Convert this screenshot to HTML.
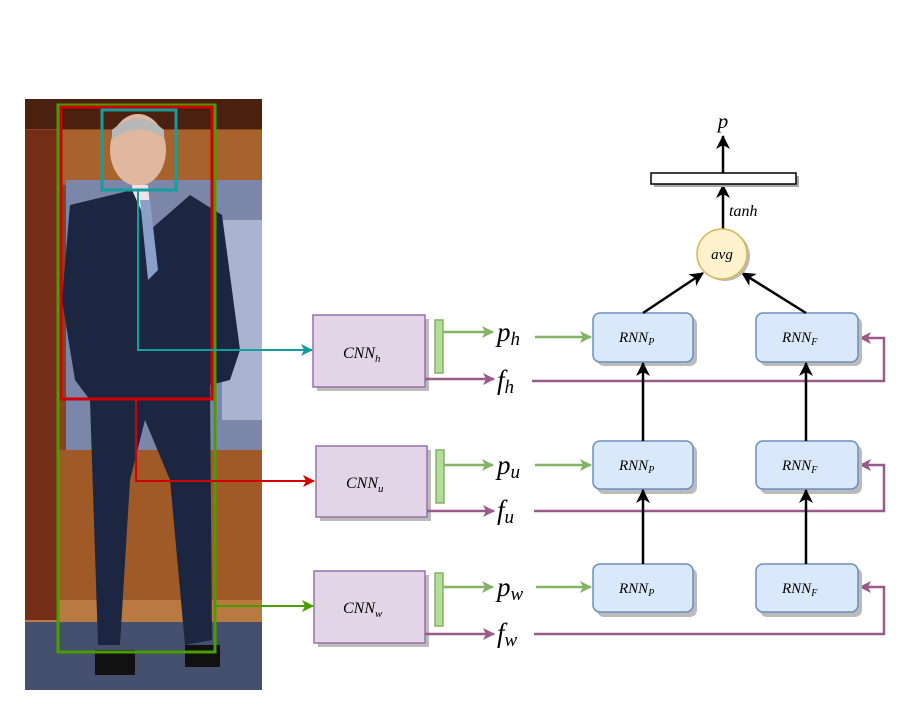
<!DOCTYPE html>
<html><head><meta charset="utf-8"><style>
html,body{margin:0;padding:0;background:#fff}
svg{display:block}
text{font-family:"Liberation Serif",serif;font-style:italic;fill:#000}
</style></head><body>
<svg width="907" height="718" viewBox="0 0 907 718" xmlns="http://www.w3.org/2000/svg">
<defs>
<marker id="ak" markerWidth="14" markerHeight="14" refX="13" refY="7" orient="auto" markerUnits="userSpaceOnUse"><path d="M0,0 L14,7 L0,14 L4,7 Z" fill="#000"/></marker>
<marker id="ag" markerWidth="12" markerHeight="12" refX="11" refY="6" orient="auto" markerUnits="userSpaceOnUse"><path d="M0,0 L12,6 L0,12 L3,6 Z" fill="#82b366"/></marker>
<marker id="am" markerWidth="12" markerHeight="12" refX="11" refY="6" orient="auto" markerUnits="userSpaceOnUse"><path d="M0,0 L12,6 L0,12 L3,6 Z" fill="#9a5b8a"/></marker>
<marker id="at" markerWidth="12" markerHeight="12" refX="11" refY="6" orient="auto" markerUnits="userSpaceOnUse"><path d="M0,0 L12,6 L0,12 L3,6 Z" fill="#139e9e"/></marker>
<marker id="ar" markerWidth="12" markerHeight="12" refX="11" refY="6" orient="auto" markerUnits="userSpaceOnUse"><path d="M0,0 L12,6 L0,12 L3,6 Z" fill="#d00000"/></marker>
<marker id="agr" markerWidth="12" markerHeight="12" refX="11" refY="6" orient="auto" markerUnits="userSpaceOnUse"><path d="M0,0 L12,6 L0,12 L3,6 Z" fill="#4b9c00"/></marker>
</defs>

<!-- photo -->
<rect x="25" y="99" width="237" height="591" fill="#8a4226"/>
<rect x="25" y="99" width="237" height="30" fill="#4a2010"/>
<rect x="60" y="130" width="202" height="55" fill="#a8622c"/>
<rect x="66" y="180" width="196" height="270" fill="#7c86a8"/>
<rect x="222" y="220" width="40" height="200" fill="#aab4d0"/>
<rect x="25" y="450" width="237" height="170" fill="#a05a28"/>
<rect x="25" y="600" width="237" height="22" fill="#b87a40"/>
<rect x="25" y="622" width="237" height="68" fill="#44506e"/>
<rect x="25" y="130" width="32" height="490" fill="#742e18"/>
<!-- person -->
<ellipse cx="138" cy="150" rx="28" ry="36" fill="#e0b8a0"/>
<path d="M112,130 Q138,107 164,130 L164,138 Q138,120 112,140Z" fill="#b8b8b8"/>
<path d="M132,185 L148,185 L152,230 L136,230Z" fill="#f0e0e8"/>
<path d="M70,205 L132,190 L150,230 L190,195 L222,215 L240,350 L230,380 L210,385 L212,640 L185,645 L170,480 L145,420 L130,480 L120,645 L98,645 L90,400 L75,380 L62,300Z" fill="#1c2640"/>
<path d="M140,200 L150,200 L158,270 L148,280Z" fill="#8aa0c8"/>
<rect x="95" y="650" width="40" height="25" fill="#111"/>
<rect x="185" y="645" width="35" height="22" fill="#111"/>

<!-- bbox -->
<rect x="58" y="105" width="157" height="547" fill="none" stroke="#4b9c00" stroke-width="3"/>
<rect x="61" y="107" width="151" height="292" fill="none" stroke="#d00000" stroke-width="3"/>
<rect x="102" y="110" width="74" height="80" fill="none" stroke="#139e9e" stroke-width="3"/>

<polyline points="138,190 138,350 312,350" fill="none" stroke="#139e9e" stroke-width="2" marker-end="url(#at)"/>
<polyline points="136,399 136,481 314,481" fill="none" stroke="#d00000" stroke-width="2" marker-end="url(#ar)"/>
<polyline points="215,606 313,606" fill="none" stroke="#4b9c00" stroke-width="2" marker-end="url(#agr)"/>

<!-- CNN boxes -->
<g fill="#bbb"><rect x="317" y="319" width="112" height="72"/><rect x="320" y="450" width="111" height="71"/><rect x="318" y="575" width="111" height="72"/></g>
<g fill="#e1d5e7" stroke="#9673a6" stroke-width="1.5">
<rect x="313" y="315" width="112" height="72"/><rect x="316" y="446" width="111" height="71"/><rect x="314" y="571" width="111" height="72"/>
</g>
<text x="343" y="358" font-size="16">CNN<tspan font-size="11" dy="4">h</tspan></text>
<text x="346" y="488" font-size="16">CNN<tspan font-size="11" dy="4">u</tspan></text>
<text x="343" y="613" font-size="16">CNN<tspan font-size="11" dy="4">w</tspan></text>

<!-- green bars -->
<g fill="#b6dc9c" stroke="#82b366" stroke-width="1.5">
<rect x="435" y="320" width="8" height="53"/><rect x="436" y="450" width="8" height="53"/><rect x="435" y="573" width="8" height="53"/>
</g>
<g stroke="#82b366" stroke-width="2.5" fill="none">
<line x1="443" y1="332" x2="493" y2="332" marker-end="url(#ag)"/>
<line x1="444" y1="465" x2="493" y2="465" marker-end="url(#ag)"/>
<line x1="443" y1="587" x2="493" y2="587" marker-end="url(#ag)"/>
<line x1="535" y1="337" x2="591" y2="337" marker-end="url(#ag)"/>
<line x1="535" y1="465" x2="591" y2="465" marker-end="url(#ag)"/>
<line x1="536" y1="587" x2="591" y2="587" marker-end="url(#ag)"/>
</g>
<g stroke="#9a5b8a" stroke-width="2.5" fill="none">
<line x1="425" y1="379" x2="494" y2="379" marker-end="url(#am)"/>
<line x1="427" y1="511" x2="494" y2="511" marker-end="url(#am)"/>
<line x1="425" y1="634" x2="494" y2="634" marker-end="url(#am)"/>
<polyline points="532,381 884,381 884,338 860,338" marker-end="url(#am)"/>
<polyline points="534,511 884,511 884,465 860,465" marker-end="url(#am)"/>
<polyline points="534,634 884,634 884,587 860,587" marker-end="url(#am)"/>
</g>

<text x="497" y="341" font-size="27">p<tspan font-size="19" dy="4">h</tspan></text>
<text x="497" y="474" font-size="27">p<tspan font-size="19" dy="4">u</tspan></text>
<text x="497" y="596" font-size="27">p<tspan font-size="19" dy="4">w</tspan></text>
<text x="497" y="389" font-size="27">f<tspan font-size="19" dy="4">h</tspan></text>
<text x="497" y="519" font-size="27">f<tspan font-size="19" dy="4">u</tspan></text>
<text x="497" y="642" font-size="27">f<tspan font-size="19" dy="4">w</tspan></text>

<!-- RNN boxes -->
<g fill="#bbb">
<rect x="597" y="317" width="100" height="49" rx="7"/><rect x="760" y="317" width="102" height="49" rx="7"/>
<rect x="597" y="445" width="100" height="49" rx="7"/><rect x="760" y="445" width="102" height="49" rx="7"/>
<rect x="597" y="568" width="100" height="49" rx="7"/><rect x="760" y="568" width="102" height="49" rx="7"/>
</g>
<g fill="#dae8fc" stroke="#6c8ebf" stroke-width="1.5">
<rect x="593" y="313" width="100" height="49" rx="7"/><rect x="756" y="313" width="102" height="49" rx="7"/>
<rect x="593" y="441" width="100" height="48" rx="7"/><rect x="756" y="441" width="102" height="48" rx="7"/>
<rect x="593" y="564" width="100" height="48" rx="7"/><rect x="756" y="564" width="102" height="48" rx="7"/>
</g>
<g font-size="15">
<text x="619" y="342">RNN<tspan font-size="10" dy="3">P</tspan></text>
<text x="782" y="342">RNN<tspan font-size="10" dy="3">F</tspan></text>
<text x="619" y="470">RNN<tspan font-size="10" dy="3">P</tspan></text>
<text x="782" y="470">RNN<tspan font-size="10" dy="3">F</tspan></text>
<text x="619" y="593">RNN<tspan font-size="10" dy="3">P</tspan></text>
<text x="782" y="593">RNN<tspan font-size="10" dy="3">F</tspan></text>
</g>

<g stroke="#000" stroke-width="2.5" fill="none">
<line x1="643" y1="441" x2="643" y2="363" marker-end="url(#ak)"/>
<line x1="806" y1="441" x2="806" y2="363" marker-end="url(#ak)"/>
<line x1="643" y1="564" x2="643" y2="490" marker-end="url(#ak)"/>
<line x1="806" y1="564" x2="806" y2="490" marker-end="url(#ak)"/>
<line x1="643" y1="313" x2="703" y2="273" marker-end="url(#ak)"/>
<line x1="806" y1="313" x2="742" y2="273" marker-end="url(#ak)"/>
<line x1="723" y1="229" x2="723" y2="185" marker-end="url(#ak)"/>
<line x1="723" y1="173" x2="723" y2="136" marker-end="url(#ak)"/>
</g>
<circle cx="725" cy="256" r="25" fill="#bbb"/>
<circle cx="722" cy="254" r="25" fill="#fff2cc" stroke="#d6b656" stroke-width="1.5"/>
<text x="722" y="259" font-size="15" text-anchor="middle">avg</text>
<rect x="654" y="176" width="145" height="11" fill="#aaa"/>
<rect x="651" y="173" width="145" height="11" fill="#fff" stroke="#000" stroke-width="1.5"/>
<text x="729" y="216" font-size="16">tanh</text>
<text x="723" y="128" font-size="21" text-anchor="middle">p</text>
</svg>
</body></html>
